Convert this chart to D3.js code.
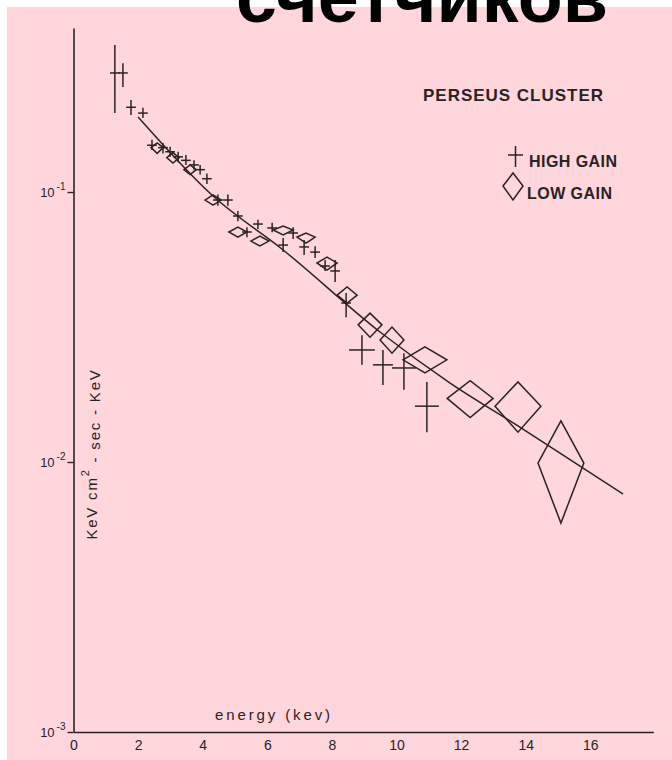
<!DOCTYPE html>
<html>
<head>
<meta charset="utf-8">
<script src="https://cdn.jsdelivr.net/npm/d3@7"></script>
<style>
  body { margin: 0; background: #fff; }
  svg { display: block; }
  text { font-family: 'Liberation Sans', Arial, sans-serif; fill: #2a2326; }
</style>
</head>
<body>
<div id="chart"></div>
<script>
// high gain points: [energy keV, flux, half width keV, flux low, flux high]
const highGain = [
  [1.28, 0.276, 0.15, 0.196, 0.350],
  [1.53, 0.276, 0.15, 0.245, 0.300],
  [1.78, 0.206, 0.15, 0.193, 0.219],
  [2.15, 0.196, 0.15, 0.188, 0.205],
  [2.43, 0.149, 0.15, 0.143, 0.156],
  [2.77, 0.146, 0.15, 0.139, 0.152],
  [2.99, 0.141, 0.15, 0.135, 0.147],
  [3.24, 0.135, 0.15, 0.129, 0.141],
  [3.48, 0.131, 0.15, 0.126, 0.137],
  [3.73, 0.126, 0.15, 0.121, 0.131],
  [3.92, 0.121, 0.15, 0.116, 0.126],
  [4.13, 0.112, 0.15, 0.107, 0.117],
  [4.47, 0.0934, 0.15, 0.089, 0.098],
  [4.78, 0.0934, 0.15, 0.089, 0.098],
  [5.09, 0.0815, 0.15, 0.078, 0.085],
  [5.37, 0.0711, 0.15, 0.068, 0.074],
  [5.71, 0.0761, 0.15, 0.073, 0.079],
  [6.15, 0.0736, 0.15, 0.071, 0.077],
  [6.49, 0.0636, 0.15, 0.060, 0.0676],
  [6.80, 0.0705, 0.15, 0.067, 0.074],
  [7.14, 0.0626, 0.15, 0.0584, 0.0664],
  [7.48, 0.0599, 0.15, 0.057, 0.063],
  [7.79, 0.0532, 0.15, 0.051, 0.056],
  [8.10, 0.0510, 0.15, 0.0464, 0.0560],
  [8.44, 0.0388, 0.15, 0.0344, 0.0423],
  [8.93, 0.0260, 0.40, 0.0229, 0.0295],
  [9.58, 0.0229, 0.31, 0.0193, 0.0260],
  [10.23, 0.0223, 0.37, 0.0185, 0.0253],
  [10.94, 0.0161, 0.37, 0.0129, 0.0198],
];

// low gain points: [energy keV, flux, half width keV, flux low, flux high]
const lowGain = [
  [2.59, 0.146, 0.19, 0.139, 0.152],
  [3.08, 0.134, 0.19, 0.128, 0.140],
  [3.61, 0.121, 0.19, 0.116, 0.126],
  [4.32, 0.0934, 0.25, 0.0895, 0.0975],
  [5.09, 0.0711, 0.28, 0.0681, 0.0742],
  [5.77, 0.0658, 0.28, 0.0631, 0.0687],
  [6.49, 0.0723, 0.31, 0.0693, 0.0748],
  [7.20, 0.0681, 0.28, 0.0647, 0.0705],
  [7.85, 0.0546, 0.31, 0.0514, 0.0574],
  [8.47, 0.0415, 0.31, 0.0388, 0.0445],
  [9.18, 0.0322, 0.37, 0.0290, 0.0356],
  [9.86, 0.0283, 0.37, 0.0253, 0.0316],
  [10.88, 0.0239, 0.68, 0.0214, 0.0267],
  [12.28, 0.0172, 0.71, 0.0146, 0.0200],
  [13.76, 0.0161, 0.71, 0.0129, 0.0198],
  [15.09, 0.00991, 0.71, 0.00594, 0.0142],
];

// fitted spectrum
const modelEnergy = [2.0, 4.32, 6.49, 9.49, 11.66, 13.76, 17.01];
const modelFlux = [0.1896, 0.0966, 0.0610, 0.0303, 0.0196, 0.0136, 0.00761];

const xTicks = [0, 2, 4, 6, 8, 10, 12, 14, 16];
const yTicks = [0.001, 0.01, 0.1];
const yExponents = ['-3', '-2', '-1'];

const width = 672;
const height = 760;
const ink = '#2a2326';

const svg = d3
  .select('#chart')
  .append('svg')
  .attr('width', width)
  .attr('height', height);

svg
  .append('rect')
  .attr('x', 7)
  .attr('y', 7)
  .attr('width', width - 7)
  .attr('height', height - 7)
  .attr('fill', '#fed6dc');

const x = d3.scaleLinear().domain([0, 17.95]).range([73.5, 653.3]);
const y = d3.scaleLog().domain([0.001, 0.405]).range([732, 28]);

// x axis
svg
  .append('g')
  .attr('transform', `translate(0, ${y(0.001)})`)
  .call(
    d3.axisBottom(x).tickValues(xTicks).tickSize(0).tickSizeOuter(0).tickPadding(8)
  )
  .call((g) => g.select('.domain').attr('stroke', ink).attr('stroke-width', 1.6))
  .call((g) =>
    g
      .selectAll('text')
      .attr('font-size', 14)
      .attr('font-family', "'Liberation Sans', Arial, sans-serif")
      .attr('fill', '#3a3336')
  );

// y axis
const yAxis = svg
  .append('g')
  .attr('transform', `translate(${x(0)}, 0)`)
  .call(
    d3.axisLeft(y).tickValues(yTicks).tickSize(6).tickSizeOuter(0).tickFormat(() => '')
  )
  .call((g) => g.select('.domain').attr('stroke', ink).attr('stroke-width', 1.6))
  .call((g) => g.selectAll('.tick line').attr('stroke', ink).attr('stroke-width', 1.4));

yAxis.selectAll('.tick text').remove();
yAxis
  .selectAll('.tick')
  .append('text')
  .attr('x', -8)
  .attr('dy', '0.35em')
  .attr('text-anchor', 'end')
  .attr('fill', '#3a3336')
  .attr('font-size', 13)
  .each(function (d, i) {
    const t = d3.select(this);
    t.append('tspan').text('10');
    t.append('tspan')
      .attr('dy', '-0.75em')
      .attr('dx', 2)
      .attr('font-size', 10)
      .text(yExponents[i]);
  });

// axis titles
svg
  .append('text')
  .attr('x', 215)
  .attr('y', 720)
  .attr('font-size', 15)
  .attr('textLength', 115)
  .attr('lengthAdjust', 'spacing')
  .text('energy (kev)');

const yTitle = svg
  .append('text')
  .attr('transform', 'translate(97, 454) rotate(-90)')
  .attr('text-anchor', 'middle')
  .attr('font-size', 15)
  .attr('letter-spacing', 1.8);
yTitle.append('tspan').text('KeV cm');
yTitle.append('tspan').attr('dy', '-0.7em').attr('font-size', 11).text('2');
yTitle.append('tspan').attr('dy', '0.7em').text(' - sec - KeV');

// fitted curve
const line = d3
  .line()
  .x((d) => x(d[0]))
  .y((d) => y(d[1]))
  .curve(d3.curveMonotoneX);

svg
  .append('path')
  .datum(modelEnergy.map((e, i) => [e, modelFlux[i]]))
  .attr('d', line)
  .attr('fill', 'none')
  .attr('stroke', ink)
  .attr('stroke-width', 1.5);

// low gain diamonds
const diamond = d3
  .line()
  .x((d) => x(d[0]))
  .y((d) => y(d[1]));

svg
  .append('g')
  .selectAll('path')
  .data(lowGain)
  .join('path')
  .attr(
    'd',
    ([e, v, dx, lo, hi]) =>
      diamond([
        [e - dx, v],
        [e, hi],
        [e + dx, v],
        [e, lo],
      ]) + 'Z'
  )
  .attr('fill', 'none')
  .attr('stroke', ink)
  .attr('stroke-width', 1.5);

// high gain crosses
const crosses = svg.append('g').attr('stroke', ink).attr('stroke-width', 1.5);
crosses
  .selectAll('line.h')
  .data(highGain)
  .join('line')
  .attr('class', 'h')
  .attr('x1', (d) => x(d[0] - d[2]))
  .attr('x2', (d) => x(d[0] + d[2]))
  .attr('y1', (d) => y(d[1]))
  .attr('y2', (d) => y(d[1]));
crosses
  .selectAll('line.v')
  .data(highGain)
  .join('line')
  .attr('class', 'v')
  .attr('x1', (d) => x(d[0]))
  .attr('x2', (d) => x(d[0]))
  .attr('y1', (d) => y(d[3]))
  .attr('y2', (d) => y(d[4]));

// legend
svg
  .append('text')
  .attr('x', 423)
  .attr('y', 101)
  .attr('font-size', 17)
  .attr('font-weight', 'bold')
  .attr('textLength', 180)
  .attr('lengthAdjust', 'spacing')
  .text('PERSEUS CLUSTER');

const legend = svg.append('g').attr('stroke', ink).attr('stroke-width', 1.5).attr('fill', 'none');
legend.append('line').attr('x1', 508).attr('x2', 523).attr('y1', 155).attr('y2', 155);
legend.append('line').attr('x1', 515.5).attr('x2', 515.5).attr('y1', 146).attr('y2', 167);
legend
  .append('path')
  .attr('d', 'M503,186L513,173L523,186L513,200Z');

svg
  .append('text')
  .attr('x', 529)
  .attr('y', 167)
  .attr('font-size', 16)
  .attr('font-weight', 'bold')
  .attr('textLength', 88)
  .attr('lengthAdjust', 'spacing')
  .text('HIGH GAIN');

svg
  .append('text')
  .attr('x', 527)
  .attr('y', 199)
  .attr('font-size', 16)
  .attr('font-weight', 'bold')
  .attr('textLength', 85)
  .attr('lengthAdjust', 'spacing')
  .text('LOW GAIN');

// page heading, cut off at the top edge
const title = svg
  .append('text')
  .attr('x', 422)
  .attr('y', 22)
  .attr('text-anchor', 'middle')
  .attr('font-size', 72)
  .attr('font-weight', 'bold')
  .attr('fill', '#000')
  .style('fill', '#000')
  .text('счетчиков');
const w = title.node().getComputedTextLength();
title.attr('font-size', (72 * 372) / w);
</script>
</body>
</html>
